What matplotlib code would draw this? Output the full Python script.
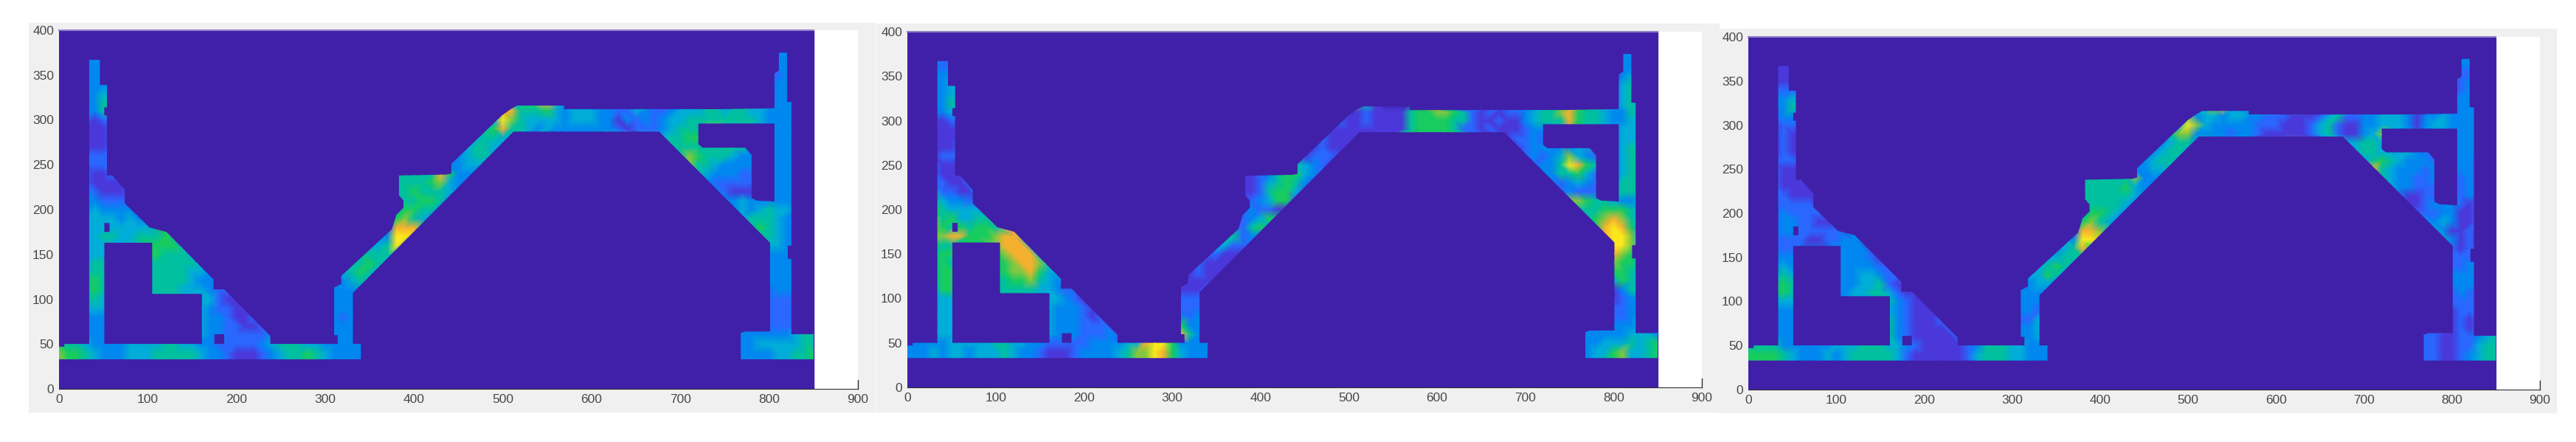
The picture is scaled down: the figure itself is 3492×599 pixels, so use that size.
import matplotlib
matplotlib.use("Agg")
import matplotlib.pyplot as plt
from matplotlib.colors import LinearSegmentedColormap
from matplotlib.patches import PathPatch, Rectangle
from matplotlib.path import Path

WIDTH, HEIGHT = 3492, 599

# colour steps 0..9 as they appear in the picture
LEVEL_COLORS = ["#4020a8", "#4a38dc", "#2868ff", "#0088f0", "#00acd8",
                "#00c0a0", "#18cc60", "#80c840", "#f4b030", "#fae81c"]

X_TICKS = list(range(0, 901, 100))
Y_TICKS = list(range(0, 401, 50))

# outline of the part, data units
OUTER = [(0, 33), (340, 33), (340, 50), (331, 50), (331, 107), (512, 287), (676, 287),
         (801, 163), (801, 64), (773, 64), (768, 62), (768, 33), (850, 33), (850, 61),
         (825, 61), (825, 145), (821, 145), (821, 160), (825, 160), (825, 320), (820, 320),
         (820, 375), (811, 375), (811, 355), (806, 352), (806, 313), (747, 312), (569, 312),
         (569, 316), (516, 316), (509, 312), (499, 305), (442, 251), (442, 240), (436, 239),
         (383, 238), (383, 216), (388, 210), (388, 202), (380, 194), (375, 178), (318, 126),
         (318, 117), (310, 113), (310, 60), (314, 60), (314, 50), (238, 50), (238, 59),
         (186, 111), (174, 111), (174, 122), (121, 175), (102, 180), (74, 207), (74, 222),
         (60, 238), (54, 238), (54, 305), (51, 305), (51, 314), (54, 314), (54, 339),
         (46, 339), (46, 367), (34, 367), (34, 50), (6, 50), (6, 47), (0, 47)]
HOLES = [
    [(51, 50), (161, 50), (161, 106), (105, 106), (105, 163), (51, 163)],
    [(51, 175), (57, 175), (57, 185), (51, 185)],
    [(175, 50), (186, 50), (186, 61), (175, 61)],
    [(720, 296), (720, 273), (725, 269), (773, 269), (780, 261), (780, 213), (786, 210),
     (806, 209), (806, 296)],
]

# field values: y -> runs of (first x, one digit per 10 units of x)
FIELD_1 = {
    380: [(810, "33")],
    370: [(30, "333"), (810, "33")],
    360: [(30, "333"), (800, "233")],
    350: [(30, "333"), (800, "223")],
    340: [(30, "3333"), (800, "233")],
    330: [(30, "3344"), (800, "233")],
    320: [(30, "3355"), (510, "5567853"), (800, "3333")],
    310: [(30, "3355"), (500, "8855564344433224322344455455443333")],
    300: [(30, "2122"), (490, "49754444344433132323445555555543333")],
    290: [(30, "1112"), (480, "56855434333333321222345557"), (800, "3333")],
    280: [(30, "1111"), (470, "45545"), (680, "45566"), (800, "3333")],
    270: [(30, "1112"), (460, "4554"), (690, "5555555554"), (800, "3333")],
    260: [(30, "2222"), (450, "34554"), (700, "576555433"), (800, "3333")],
    250: [(30, "2222"), (440, "33444"), (710, "75543333"), (800, "3333")],
    240: [(30, "2112"), (380, "5555586333"), (720, "5433322"), (800, "3333")],
    230: [(30, "21111"), (380, "555567433"), (730, "322222"), (800, "3333")],
    220: [(30, "32111"), (380, "55655543"), (740, "32111"), (800, "3333")],
    210: [(30, "332222"), (390, "556653"), (750, "334333333")],
    200: [(30, "343333"), (380, "566553"), (760, "34345443")],
    190: [(30, "4444343"), (380, "67543"), (770, "4555433")],
    180: [(30, "44444444"), (370, "38886"), (780, "565433")],
    170: [(30, "4455445556"), (360, "43998"), (790, "55433")],
    160: [(30, "444"), (100, "6666"), (350, "44597"), (800, "4433")],
    150: [(30, "444"), (100, "665554"), (340, "55555"), (800, "3333")],
    140: [(30, "455"), (100, "5555554"), (330, "55654"), (800, "3333")],
    130: [(30, "555"), (100, "55555443"), (320, "45654"), (800, "3333")],
    120: [(30, "565"), (100, "55555433"), (310, "33454"), (800, "3333")],
    110: [(30, "565"), (100, "5555444322"), (310, "3333"), (800, "2333")],
    100: [(30, "554"), (160, "44211"), (310, "333"), (800, "2222")],
    90: [(30, "444"), (160, "432211"), (310, "333"), (800, "2222")],
    80: [(30, "333"), (160, "4332112"), (310, "323"), (800, "2222")],
    70: [(30, "333"), (160, "43322112"), (310, "333"), (800, "2222")],
    60: [(30, "333"), (160, "433222223"), (310, "333"), (770, "333333455")],
    50: [(0, "65543333444455443322222345554433333"), (770, "334444455")],
    40: [(0, "76654333444555554332111234556543333"), (770, "333344556")],
    30: [(0, "76654333444555554332111234556543333"), (770, "333344556")],
}

FIELD_2 = {
    380: [(810, "33")],
    370: [(30, "322"), (810, "33")],
    360: [(30, "323"), (800, "233")],
    350: [(30, "333"), (800, "134")],
    340: [(30, "3344"), (800, "245")],
    330: [(30, "3344"), (800, "245")],
    320: [(30, "3355"), (510, "8510000"), (800, "3454")],
    310: [(30, "2344"), (500, "1121111566776521212234557865543354")],
    300: [(30, "1122"), (490, "21121111566665521121134555865543344")],
    290: [(30, "1111"), (480, "1111111115666652212111233"), (800, "3444")],
    280: [(30, "1111"), (470, "2111"), (680, "12232"), (800, "3444")],
    270: [(30, "1112"), (460, "1211"), (690, "12333334"), (800, "3455")],
    260: [(30, "1222"), (450, "12221"), (700, "232347432"), (800, "3455")],
    250: [(30, "2111"), (440, "54321"), (710, "233598653"), (800, "3455")],
    240: [(30, "2111"), (380, "1123566432"), (720, "3355642"), (800, "3455")],
    230: [(30, "22112"), (380, "112456532"), (730, "323432"), (800, "4555")],
    220: [(30, "42211"), (380, "11256642"), (740, "23222"), (800, "4555")],
    210: [(30, "543323"), (390, "234662"), (750, "77655433")],
    200: [(30, "654444"), (380, "232211"), (760, "55566654")],
    190: [(30, "7564455"), (380, "23465"), (770, "5678754")],
    180: [(30, "76565665"), (370, "22565"), (780, "689863")],
    170: [(30, "7788666788"), (360, "55233"), (790, "89974")],
    160: [(30, "655"), (100, "7888"), (350, "44222"), (800, "9974")],
    150: [(30, "566"), (100, "678884"), (340, "22111"), (800, "8764")],
    140: [(30, "565"), (100, "6678875"), (330, "21111"), (800, "7664")],
    130: [(30, "566"), (100, "66778644"), (320, "12111"), (800, "6654")],
    120: [(30, "566"), (100, "55667543"), (310, "11111"), (800, "4654")],
    110: [(30, "466"), (100, "5555544322"), (310, "1112"), (800, "1355")],
    100: [(30, "444"), (160, "44321"), (310, "222"), (800, "1233")],
    90: [(30, "444"), (160, "433321"), (310, "222"), (800, "2233")],
    80: [(30, "444"), (160, "4333212"), (310, "323"), (800, "2233")],
    70: [(30, "444"), (160, "43332222"), (310, "633"), (800, "3334")],
    60: [(30, "444"), (160, "433322232"), (310, "853"), (770, "333334443")],
    50: [(0, "33333444445544332222233334489963333"), (770, "334445456")],
    40: [(0, "33343443444543321112333345779864333"), (770, "344674456")],
    30: [(0, "33343443444543321112333345779864333"), (770, "345674456")],
}

FIELD_3 = {
    380: [(810, "33")],
    370: [(30, "111"), (810, "33")],
    360: [(30, "111"), (800, "122")],
    350: [(30, "111"), (800, "123")],
    340: [(30, "2222"), (800, "123")],
    330: [(30, "3344"), (800, "233")],
    320: [(30, "3355"), (510, "4478444"), (800, "2333")],
    310: [(30, "2333"), (500, "7344344332221112452233444313343333")],
    300: [(30, "1222"), (490, "49743333322211124521133444313443333")],
    290: [(30, "1211"), (480, "5773333233211111245211347"), (800, "3333")],
    280: [(30, "1211"), (470, "3455"), (680, "44554"), (800, "3333")],
    270: [(30, "1211"), (460, "3455"), (690, "45544443"), (800, "3333")],
    260: [(30, "2222"), (450, "34554"), (700, "456543332"), (800, "3332")],
    250: [(30, "2111"), (440, "33445"), (710, "85433323"), (800, "2332")],
    240: [(30, "2111"), (380, "4555557333"), (720, "5433223"), (800, "2232")],
    230: [(30, "21111"), (380, "555556433"), (730, "433222"), (800, "2232")],
    220: [(30, "22111"), (380, "55555543"), (740, "31122"), (800, "2232")],
    210: [(30, "222221"), (390, "555543"), (750, "112333212")],
    200: [(30, "232222"), (380, "466543"), (760, "22233112")],
    190: [(30, "2332211"), (380, "67543"), (770, "3343112")],
    180: [(30, "23322222"), (370, "38875"), (780, "431121")],
    170: [(30, "2222112233"), (360, "43998"), (790, "43121")],
    160: [(30, "222"), (100, "3333"), (350, "34586"), (800, "2122")],
    150: [(30, "333"), (100, "333321"), (340, "44555"), (800, "2222")],
    140: [(30, "343"), (100, "3333322"), (330, "45654"), (800, "2233")],
    130: [(30, "454"), (100, "33344322"), (320, "44654"), (800, "3333")],
    120: [(30, "565"), (100, "33344521"), (310, "33443"), (800, "3333")],
    110: [(30, "565"), (100, "3344554211"), (310, "3333"), (800, "2322")],
    100: [(30, "444"), (160, "53211"), (310, "333"), (800, "2222")],
    90: [(30, "333"), (160, "432111"), (310, "332"), (800, "1222")],
    80: [(30, "333"), (160, "5321112"), (310, "224"), (800, "1212")],
    70: [(30, "333"), (160, "53211112"), (310, "334"), (800, "1212")],
    60: [(30, "333"), (160, "532111112"), (310, "334"), (770, "221122345")],
    50: [(0, "55553333334445554432111112355544333"), (770, "221122455")],
    40: [(0, "66665433343455555421111112455544333"), (770, "221123455")],
    30: [(0, "66665433343455555421111112455544333"), (770, "221123455")],
}

# pixel boxes: grey panel (l, t, r, b), axes (l, t, r, b)
PANELS = [
    (FIELD_1, (39, 31, 1186, 558), (80, 41, 1163, 527)),
    (FIELD_2, (1188, 32, 2330, 558), (1230, 43, 2307, 525)),
    (FIELD_3, (2329, 39, 3465, 559), (2370, 50, 3443, 528)),
]


def box_to_fig(box):
    left, top, right, bottom = box
    return left / WIDTH, 1 - bottom / HEIGHT, (right - left) / WIDTH, (bottom - top) / HEIGHT


def part_path():
    verts, codes = [], []
    for ring in [OUTER] + [hole[::-1] for hole in HOLES]:
        verts += ring + [ring[0]]
        codes += [Path.MOVETO] + [Path.LINETO] * (len(ring) - 1) + [Path.CLOSEPOLY]
    return Path(verts, codes)


def field_points(field):
    xs, ys, values = [], [], []
    for y, runs in field.items():
        for x0, digits in runs:
            for i, digit in enumerate(digits):
                xs.append(x0 + 10 * i)
                ys.append(y)
                values.append(int(digit))
    return xs, ys, values


cmap = LinearSegmentedColormap.from_list("levels", LEVEL_COLORS)
fig = plt.figure(figsize=(WIDTH / 100, HEIGHT / 100), dpi=100)

for field, grey_box, axes_box in PANELS:
    l, b, w, h = box_to_fig(grey_box)
    fig.add_artist(Rectangle((l, b), w, h, transform=fig.transFigure, color="#f0f0f0", zorder=-5))

    ax = fig.add_axes(box_to_fig(axes_box), facecolor="white")
    ax.set_xlim(0, 900)
    ax.set_ylim(0, 400)
    ax.set_xticks(X_TICKS)
    ax.set_yticks(Y_TICKS)
    ax.tick_params(length=0, labelsize=12.5, labelcolor="#484848", pad=5)
    for label in ax.get_xticklabels() + ax.get_yticklabels():
        label.set_fontfamily("Liberation Sans")
    ax.grid(axis="y", color="#e4e4e4", linewidth=1.5, zorder=0)
    ax.set_axisbelow(True)
    for side in ["top", "left", "right"]:
        ax.spines[side].set_visible(False)
    ax.spines["bottom"].set_color("#303030")
    ax.plot([900, 900], [0, 10], color="#303030", linewidth=1, clip_on=False)

    ax.add_patch(Rectangle((0, 0), 850, 400, color=LEVEL_COLORS[0], zorder=1))
    ax.plot([0, 850], [400, 400], color="#8e80c8", linewidth=1.5, zorder=2, clip_on=False)

    xs, ys, values = field_points(field)
    mesh = ax.tripcolor(xs, ys, values, shading="gouraud", cmap=cmap, vmin=0, vmax=9, zorder=3)
    outline = PathPatch(part_path(), transform=ax.transData, facecolor="none", edgecolor="none")
    mesh.set_clip_path(outline)
    ax.set_xlim(0, 900)
    ax.set_ylim(0, 400)

fig.savefig("out.png", dpi=100)
